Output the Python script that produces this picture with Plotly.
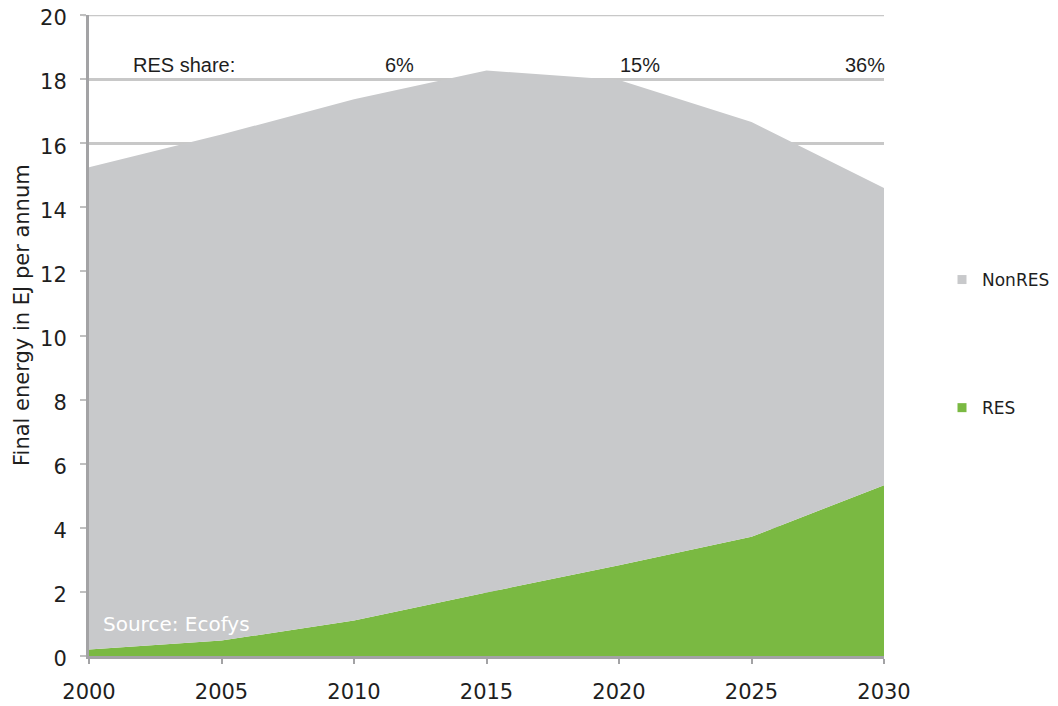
import plotly.graph_objects as go

years = [2000, 2005, 2010, 2015, 2020, 2025, 2030]
res = [0.2, 0.48, 1.11, 1.98, 2.83, 3.72, 5.33]
total = [15.25, 16.27, 17.37, 18.27, 17.97, 16.66, 14.6]
nonres = [round(t - r, 2) for t, r in zip(total, res)]
share_labels = ["RES share:", "6%", "15%", "36%"]
share_x = [2003.6, 2011.7, 2020.8, 2029.3]

GREEN = "#7AB942"
GRAY = "#C8C9CB"
GRID = "#c8c8c8"
TXT = "#1e1e1e"
AX = "#a3a3a5"

# figure is placed 8px from the window corner by the page's body margin
W, H = 1050, 698
L, R, T, B = 81, 174, 7, 50
pw, ph = W - L - R, H - T - B

fig = go.Figure()
fig.add_trace(go.Scatter(x=years, y=res, mode="none", fill="tozeroy", fillcolor=GREEN,
                         stackgroup="a", name="RES", showlegend=False, hoverinfo="skip"))
fig.add_trace(go.Scatter(x=years, y=nonres, mode="none", fill="tonexty", fillcolor=GRAY,
                         stackgroup="a", name="NonRES", showlegend=False, hoverinfo="skip"))
# legend entries
fig.add_trace(go.Scatter(x=[None], y=[None], mode="markers", name="NonRES",
                         marker=dict(symbol="square", size=9, color=GRAY), legendgroup="g1"))
fig.add_trace(go.Scatter(x=[None], y=[None], mode="markers", name="RES",
                         marker=dict(symbol="square", size=9, color=GREEN), legendgroup="g2"))

for lbl, xv in zip(share_labels, share_x):
    fig.add_annotation(x=xv, y=18.45, xref="x", yref="y", text=lbl, showarrow=False,
                       font=dict(family="Liberation Sans, Arial", size=20, color=TXT))

fig.add_annotation(x=2000.45, y=1.0, xref="x", yref="y", text="Source: Ecofys", showarrow=False,
                   xanchor="left", font=dict(family="DejaVu Sans", size=20, color="white"))

fig.add_annotation(x=(14 - L) / pw, y=(H - B - 307) / ph, xref="paper", yref="paper",
                   text="Final energy in EJ per annum", showarrow=False, textangle=-90,
                   xanchor="center", yanchor="middle",
                   font=dict(family="DejaVu Sans", size=21, color=TXT))

# top gridline (plotly drops the grid line at the range edge)
fig.add_shape(type="line", xref="paper", yref="y", x0=-6 / pw, x1=1, y0=20, y1=20,
              line=dict(color=GRID, width=2.5), layer="below")

fig.update_layout(
    width=W, height=H,
    margin=dict(l=L, r=R, t=T, b=B, pad=0, autoexpand=False),
    paper_bgcolor="white", plot_bgcolor="white",
    font=dict(family="DejaVu Sans", color=TXT),
    legend=dict(x=(934 - L) / pw, y=(H - B - 254) / ph, xanchor="left", yanchor="top",
                traceorder="grouped", tracegroupgap=103,
                font=dict(family="DejaVu Sans", size=17, color=TXT),
                itemwidth=30, bgcolor="rgba(0,0,0,0)"),
    showlegend=True,
)

fig.update_xaxes(range=[2000, 2030], tickvals=[2000, 2005, 2010, 2015, 2020, 2025, 2030],
                 showgrid=False, zeroline=False, showline=True, linecolor=AX, linewidth=3,
                 ticks="outside", ticklen=5, tickwidth=2, tickcolor=AX, automargin=False,
                 ticklabelstandoff=10, ticklabeloverflow="allow",
                 tickfont=dict(family="DejaVu Sans", size=21, color=TXT))
fig.update_yaxes(range=[0, 20], dtick=2, showgrid=True, gridcolor=GRID, gridwidth=2.5,
                 zeroline=False, showline=True, linecolor=AX, linewidth=3, automargin=False,
                 ticks="outside", ticklen=6, tickwidth=2, tickcolor="#c0c0c0",
                 ticklabeloverflow="allow", ticklabelstandoff=9, ticklabelshift=3,
                 tickfont=dict(family="DejaVu Sans", size=21, color=TXT))

fig.write_html("out.html")
